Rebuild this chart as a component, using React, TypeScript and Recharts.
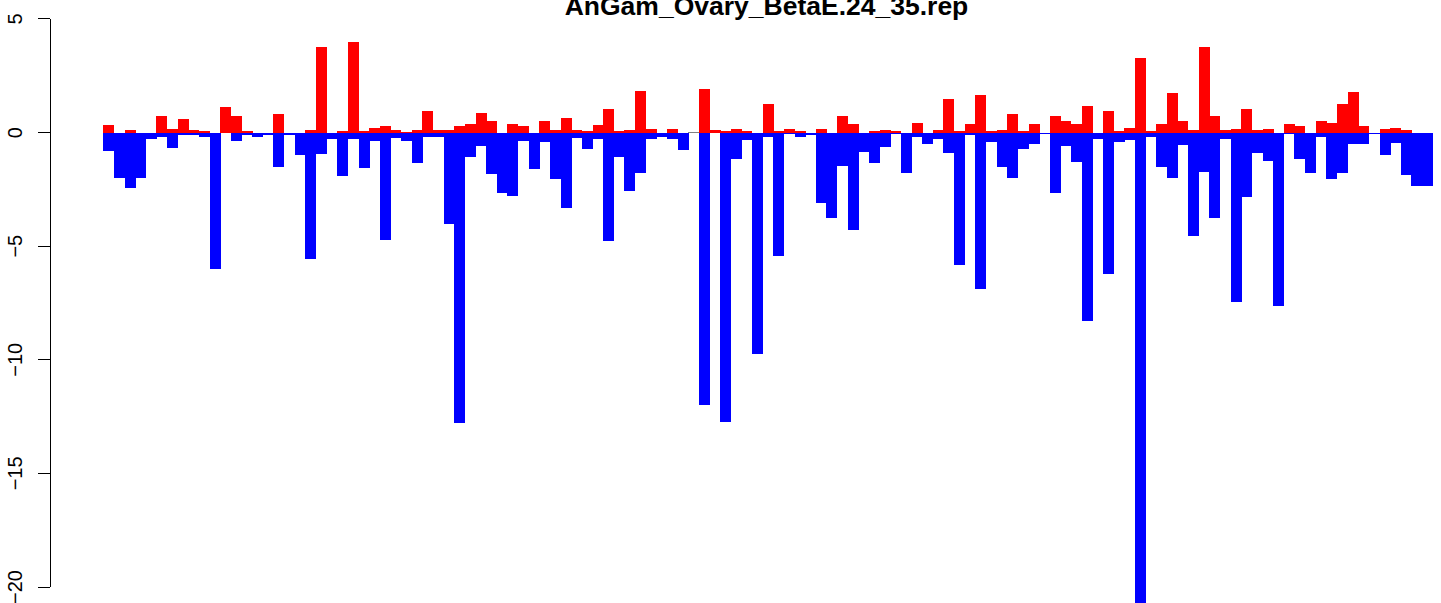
import React from 'react';
import { BarChart, Bar, XAxis, YAxis, ReferenceArea } from 'recharts';

const W = 1441;
const H = 603;

const title = 'AnGam_Ovary_BetaE.24_35.rep';

// one bin per position, 125 bins
const bins = Array.from({ length: 125 }, (_, i) => String(i + 1));

const upValues = [
  0.35, 0, 0.10, 0, 0, 0.71, 0.18, 0.58, 0.10, 0.06,
  0, 1.11, 0.71, 0.06, 0, 0, 0.84, 0, 0, 0.13,
  3.76, 0, 0.06, 3.98, 0.06, 0.22, 0.31, 0.10, 0.04, 0.13,
  0.97, 0.10, 0.10, 0.27, 0.40, 0.88, 0.49, 0, 0.40, 0.27,
  0, 0.49, 0.13, 0.66, 0.10, 0.06, 0.35, 1.06, 0.06, 0.10,
  1.81, 0.18, 0, 0.18, 0, 0, 1.90, 0.13, 0.06, 0.18,
  0.06, 0, 1.24, 0.06, 0.18, 0.06, 0, 0.18, 0, 0.75,
  0.40, 0, 0.06, 0.13, 0.06, 0, 0.44, 0, 0.13, 1.50,
  0.09, 0.40, 1.64, 0.06, 0.13, 0.80, 0.06, 0.40, 0, 0.71,
  0.49, 0.40, 1.19, 0, 0.93, 0.09, 0.22, 3.27, 0.09, 0.40,
  1.73, 0.53, 0.13, 3.76, 0.75, 0.13, 0.18, 1.02, 0.13, 0.18,
  0, 0.40, 0.27, 0, 0.49, 0.44, 1.28, 1.77, 0.27, 0,
  0.18, 0.22, 0.13, 0, 0,
];

const downValues = [
  -0.80, -1.98, -2.46, -2.02, -0.30, -0.18, -0.66, -0.12, -0.12, -0.18,
  -6.00, 0, -0.35, -0.12, -0.18, -0.12, -1.50, -0.12, -0.97, -5.56,
  -0.93, -0.30, -1.93, -0.30, -1.58, -0.38, -4.73, -0.25, -0.38, -1.36,
  -0.18, -0.18, -4.01, -12.78, -1.09, -0.58, -1.84, -2.68, -2.77, -0.38,
  -1.62, -0.43, -2.06, -3.30, -0.22, -0.71, -0.30, -4.77, -1.06, -2.55,
  -1.80, -0.30, -0.18, -0.30, -0.78, 0, -11.99, 0, -12.74, -1.18,
  -0.34, -9.74, -0.18, -5.43, -0.07, -0.18, -0.12, -3.10, -3.76, -1.46,
  -4.29, -0.84, -1.36, -0.62, -0.07, -1.77, -0.18, -0.49, -0.30, -0.88,
  -5.83, -0.12, -6.88, -0.43, -1.53, -1.98, -0.71, -0.52, -0.07, -2.65,
  -0.58, -1.28, -8.29, -0.27, -6.22, -0.40, -0.34, -20.70, -0.18, -1.53,
  -2.02, -0.53, -4.55, -1.73, -3.75, -0.27, -7.46, -2.82, -0.88, -1.24,
  -7.63, -0.07, -1.18, -1.77, -0.18, -2.04, -1.80, -0.52, -0.49, -0.07,
  -0.97, -0.44, -1.86, -2.35, -2.35,
];

const yTicks = [5, 0, -5, -10, -15, -20];

// the only bin where both bars are empty, so the zero line shows through
const emptyBin = '56';

const Y_MIN = -20.704;
const Y_MAX = 5.836;
const AXIS_X = 50;

const data = bins.map((bin, i) => ({ bin, up: upValues[i], down: downValues[i] }));

const tickStep = (5 * H) / (Y_MAX - Y_MIN);

const fmt = (v: number) => (v < 0 ? '\u2212' + Math.abs(v) : String(v));

const AxisTick = (props: any) => {
  const { y, payload, index } = props;
  return (
    <g>
      <line x1={AXIS_X - 12} x2={AXIS_X} y1={y} y2={y} stroke="#000" strokeWidth={1} />
      {index < yTicks.length - 1 && (
        <line x1={AXIS_X} x2={AXIS_X} y1={y} y2={y + tickStep} stroke="#000" strokeWidth={1} />
      )}
      <text
        transform={`translate(21.7,${y}) rotate(-90)`}
        textAnchor="middle"
        fontSize={20}
        fontFamily="'Liberation Sans', Arial, sans-serif"
        fill="#000"
      >
        {fmt(payload.value)}
      </text>
    </g>
  );
};

export default function App() {
  return (
    <div style={{ position: 'absolute', left: 0, top: 0, width: W, height: H, background: '#fff' }}>
      <BarChart
        width={W}
        height={H}
        data={data}
        margin={{ top: 0, right: 8.3, bottom: 0, left: 0 }}
        barCategoryGap={0}
        barGap={0}
        stackOffset="sign"
        style={{ shapeRendering: 'crispEdges' }}
      >
        <XAxis dataKey="bin" hide padding={{ left: 53.3, right: 0 }} />
        <YAxis
          width={AXIS_X}
          type="number"
          domain={[Y_MIN, Y_MAX]}
          allowDataOverflow
          ticks={yTicks}
          axisLine={false}
          tickLine={false}
          tick={<AxisTick />}
        />
        <Bar dataKey="up" stackId="s" fill="#ff0000" isAnimationActive={false} />
        <Bar dataKey="down" stackId="s" fill="#0000ff" isAnimationActive={false} />
        <ReferenceArea
          x1={emptyBin}
          x2={emptyBin}
          y1={0.02}
          y2={-0.02}
          fill="#808080"
          fillOpacity={1}
          stroke="none"
        />
      </BarChart>
      <svg
        width={W}
        height={H}
        style={{ position: 'absolute', left: 0, top: 0, pointerEvents: 'none' }}
      >
        <text
          x={766.5}
          y={15}
          textAnchor="middle"
          fontSize={26.5}
          fontWeight="bold"
          fontFamily="'Liberation Sans', Arial, sans-serif"
          fill="#000"
        >
          {title}
        </text>
      </svg>
    </div>
  );
}
